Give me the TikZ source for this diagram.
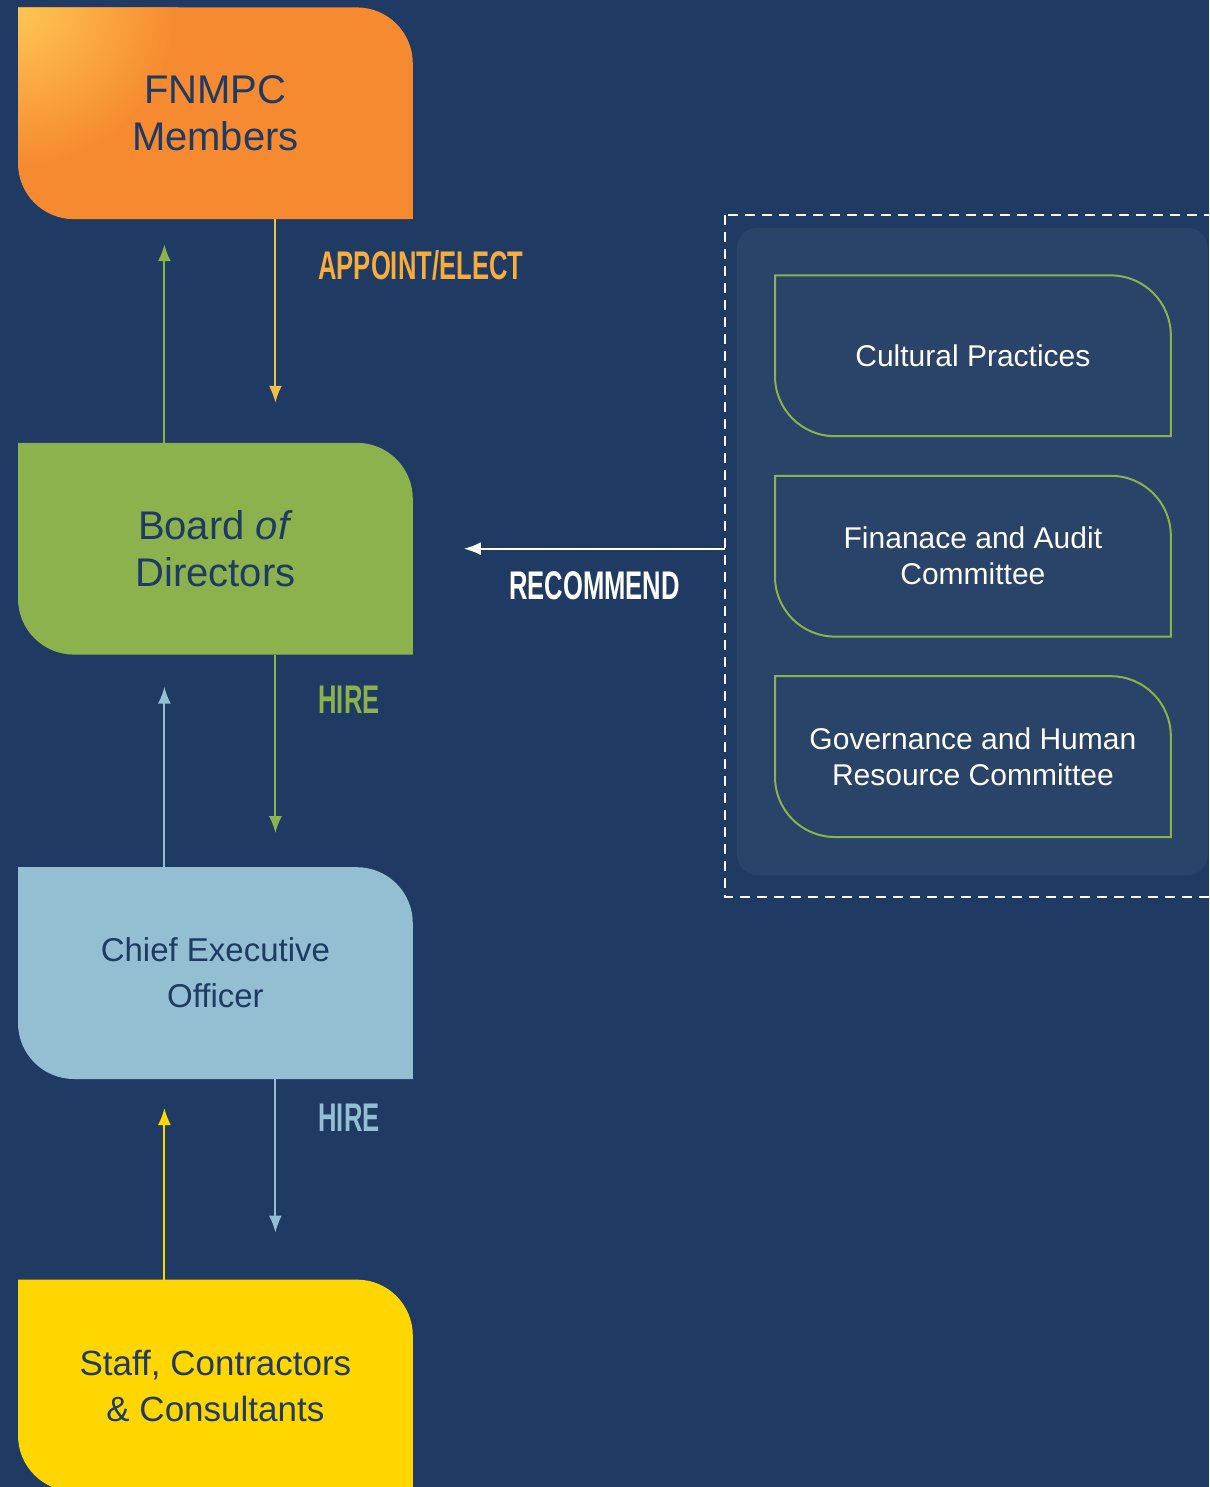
\documentclass[tikz,border=0pt]{standalone}
\usepackage{fontspec}
\setmainfont{Liberation Sans}
\newfontfamily\verbfont[FakeStretch=0.64]{Liberation Sans}
\usepackage{tikz}
\usetikzlibrary{positioning,arrows.meta,backgrounds}
\definecolor{navy}{HTML}{1F3A63}
\definecolor{panelblue}{HTML}{2A4369}
\definecolor{fnorange}{HTML}{F58A30}
\definecolor{fnlight}{HTML}{FFC654}
\definecolor{boardgreen}{HTML}{8BB24C}
\definecolor{ceoblue}{HTML}{94BFD3}
\definecolor{staffyellow}{HTML}{FFD600}
\definecolor{electorange}{HTML}{F8AC3C}
\definecolor{electarrow}{HTML}{F2BD4A}
\tikzstyle{unit}=[rectangle,
inner sep=0pt,
minimum width=197pt,
minimum height=105.5pt,
align=center,
text=navy,
font=\fontsize{20}{23.5}\selectfont]
\tikzstyle{committee}=[rectangle,
inner sep=0pt,
minimum width=197.5pt,
minimum height=80pt,
align=center,
text=white,
font=\fontsize{15}{18}\selectfont]
\tikzstyle{verb}=[inner sep=0pt,
font=\verbfont\bfseries\fontsize{20}{20}\selectfont]
\tikzstyle{flow}=[line width=1pt]
\tikzstyle{dashframe}=[draw=white,
line width=1pt,
dash pattern=on 5pt off 3.5pt]
% leaf outline: top right and bottom left corners rounded
\newcommand{\leaf}[2]{(#1.north west) -- ([xshift=-#2]#1.north east)
 arc[start angle=90,end angle=0,radius=#2] -- (#1.south east)
 -- ([xshift=#2]#1.south west) arc[start angle=270,end angle=180,radius=#2] -- cycle}
\begin{document}
\begin{tikzpicture}[x=0.5pt,y=0.5pt,>={Latex[length=8.5pt,width=6.5pt]}]
	\useasboundingbox (0,0) rectangle (1209,-1487);
	
	% The chain of bodies on the left:
	\matrix (chain) [anchor=north west,inner sep=0pt,row sep=100.5pt] at (18,-7) {
		\node (fnmpc) [unit] {FNMPC\\Members}; \\[11.5pt]
		\node (board) [unit] {Board \textit{of}\\Directors}; \\[6pt]
		\node (ceo)   [unit,font=\fontsize{16.5}{23}\selectfont] {Chief Executive\\Officer}; \\
		\node (staff) [unit,font=\fontsize{17.5}{23}\selectfont] {Staff, Contractors\\\& Consultants}; \\
	};
	
	% The committees on the right:
	\matrix (cmte) [anchor=north west,inner sep=0pt,row sep=20pt] at (775,-275) {
		\node (cult) [committee] {Cultural Practices}; \\
		\node (fin)  [committee] {Finanace and Audit\\Committee}; \\
		\node (gov)  [committee] {Governance and Human\\Resource Committee}; \\
	};
	\coordinate (framew) at ([xshift=-25pt]cmte.west);
	
	% Down: who appoints / hires whom, up: reporting lines
	\path[->,flow]
	([xshift=30pt]fnmpc.south) edge[electarrow] 
		node[verb,pos=0.25,right=21pt,text=electorange] {APPOINT/ELECT}
		([xshift=30pt,yshift=20pt]board.north)
	([xshift=30pt]board.south) edge[boardgreen]
		node[verb,pos=0.25,right=21pt,text=boardgreen] {HIRE}
		([xshift=30pt,yshift=17pt]ceo.north)
	([xshift=30pt]ceo.south) edge[ceoblue]
		node[verb,pos=0.25,right=21pt,text=ceoblue] {HIRE}
		([xshift=30pt,yshift=23.5pt]staff.north)
	
	([xshift=-25.5pt]board.north) edge[boardgreen] ([xshift=-25.5pt,yshift=-12.5pt]fnmpc.south)
	([xshift=-25.5pt]ceo.north)   edge[ceoblue]    ([xshift=-25.5pt,yshift=-16pt]board.south)
	([xshift=-25.5pt]staff.north) edge[staffyellow] ([xshift=-25.5pt,yshift=-14.5pt]ceo.south)
	;
	
	% The committees recommend to the board:
	\draw[->,flow,white] (framew |- board.east) --
		node[verb,below=11pt,text=white] {RECOMMEND} ([xshift=25.5pt]board.east);
	
	% Shapes and panels go behind the texts:
	\begin{pgfonlayer}{background}
	\fill[navy] (0,0) rectangle (1209,-1487);
	\fill[panelblue,rounded corners=10pt] ([shift={(-19pt,23.5pt)}]cmte.north west)
		rectangle ([shift={(18.5pt,-19pt)}]cmte.south east);
	\draw[dashframe] ([shift={(-25pt,30pt)}]cmte.north west)
		rectangle ([shift={(30pt,-30pt)}]cmte.south east);
	
	\fill[fnorange] \leaf{fnmpc}{28pt};
	\begin{scope}
	\clip \leaf{fnmpc}{28pt};
	\shade[inner color=fnlight,outer color=fnorange] (fnmpc.north west) circle (80pt);
	\end{scope}
	\fill[boardgreen]  \leaf{board}{28pt};
	\fill[ceoblue]     \leaf{ceo}{28pt};
	\fill[staffyellow] \leaf{staff}{28pt};
	
	\draw[boardgreen,line width=1pt] \leaf{cult}{30pt};
	\draw[boardgreen,line width=1pt] \leaf{fin}{30pt};
	\draw[boardgreen,line width=1pt] \leaf{gov}{30pt};
	\end{pgfonlayer}
\end{tikzpicture}
\end{document}
